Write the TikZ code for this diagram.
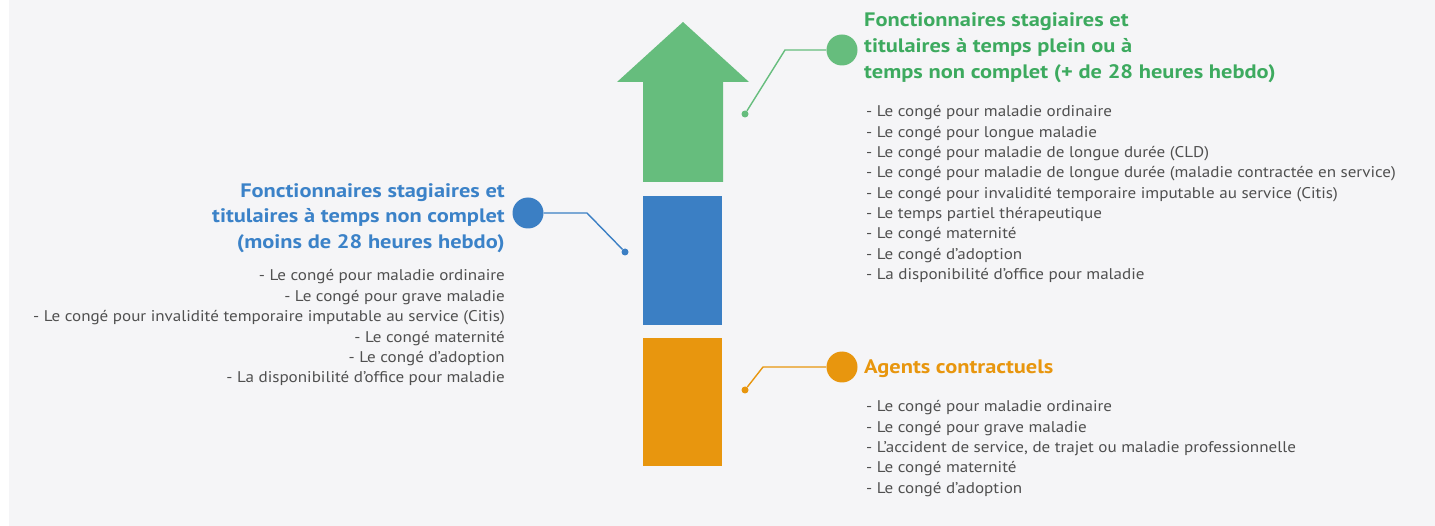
\documentclass[tikz,border=0pt]{standalone}
\usepackage{fontspec}
\setmainfont{PT Sans}
\newfontfamily\titlefont{PT Sans}[FakeStretch=1.15]
\newfontfamily\itemfont{PT Sans}[FakeStretch=1.10]
\definecolor{bgc}{HTML}{F5F5F7}
\definecolor{grn}{HTML}{66BD7D}
\definecolor{grnt}{HTML}{3DAA5F}
\definecolor{blu}{HTML}{3B7FC4}
\definecolor{blut}{HTML}{3B82C8}
\definecolor{org}{HTML}{E8960E}
\definecolor{txt}{HTML}{505050}
\tikzset{
  titlel/.style={font=\titlefont\fontsize{19.5}{26}\selectfont\bfseries, inner sep=0pt},
  iteml/.style={font=\itemfont\fontsize{15.5}{20}\selectfont, text=txt, inner sep=0pt},
  bigdot/.style={circle, fill=#1, minimum size=31pt, inner sep=0pt},
  smalldot/.style={circle, fill=#1, minimum size=7pt, inner sep=0pt},
  link/.style={draw=#1, line width=1.4pt},
}
\begin{document}
\begin{tikzpicture}[x=1pt,y=-1pt]
\useasboundingbox (0,0) rectangle (1435,526);
\fill[bgc] (0,0) rectangle (1435,526);
\fill[white] (0,0) rectangle (9,526);
% arrow and bars
\fill[grn] (683,22) -- (749,82) -- (723,82) -- (723,182) -- (643,182) -- (643,82) -- (617,82) -- cycle;
\fill[blu] (643,196) rectangle (722,325);
\fill[org] (643,338) rectangle (722,466);
% green group
\node[bigdot=grn] (gc) at (842,50) {};
\node[smalldot=grn] (gs) at (745,114) {};
\coordinate (gk) at (785,50);
\draw[link=grn] (gc) -- (gk) -- (gs);
\node[titlel, text=grnt, anchor=base west] (gt1) at (864,27) {Fonctionnaires stagiaires et};
\node[titlel, text=grnt, anchor=base west] (gt2) at (864,53) {titulaires à temps plein ou à};
\node[titlel, text=grnt, anchor=base west] (gt3) at (864,79) {temps non complet (+ de 28 heures hebdo)};
\foreach \t [count=\i] in {
  {- Le congé pour maladie ordinaire},
  {- Le congé pour longue maladie},
  {- Le congé pour maladie de longue durée (CLD)},
  {- Le congé pour maladie de longue durée (maladie contractée en service)},
  {- Le congé pour invalidité temporaire imputable au service (Citis)},
  {- Le temps partiel thérapeutique},
  {- Le congé maternité},
  {- Le congé d’adoption},
  {- La disponibilité d’office pour maladie}}
  \node[iteml, anchor=base west] (gl\i) at (866,{117+20.3*(\i-1)}) {\t};
% blue group
\node[bigdot=blu] (bc) at (528,213) {};
\node[smalldot=blu] (bs) at (625,252) {};
\coordinate (bk) at (587,213);
\draw[link=blu] (bc) -- (bk) -- (bs);
\node[titlel, text=blut, anchor=base east] (bt1) at (505,198) {Fonctionnaires stagiaires et};
\node[titlel, text=blut, anchor=base east] (bt2) at (505,223) {titulaires à temps non complet};
\node[titlel, text=blut, anchor=base east] (bt3) at (505,249) {(moins de 28 heures hebdo)};
\foreach \t [count=\i] in {
  {- Le congé pour maladie ordinaire},
  {- Le congé pour grave maladie},
  {- Le congé pour invalidité temporaire imputable au service (Citis)},
  {- Le congé maternité},
  {- Le congé d’adoption},
  {- La disponibilité d’office pour maladie}}
  \node[iteml, anchor=base east] (bl\i) at (505,{281+20.4*(\i-1)}) {\t};
% orange group
\node[bigdot=org] (oc) at (842,367) {};
\node[smalldot=org] (os) at (745,390) {};
\coordinate (ok) at (763,367);
\draw[link=org] (oc) -- (ok) -- (os);
\node[titlel, text=org, anchor=base west] (ot1) at (864,374) {Agents contractuels};
\foreach \t [count=\i] in {
  {- Le congé pour maladie ordinaire},
  {- Le congé pour grave maladie},
  {- L’accident de service, de trajet ou maladie professionnelle},
  {- Le congé maternité},
  {- Le congé d’adoption}}
  \node[iteml, anchor=base west] (ol\i) at (866,{412+20.3*(\i-1)}) {\t};
\end{tikzpicture}
\end{document}
